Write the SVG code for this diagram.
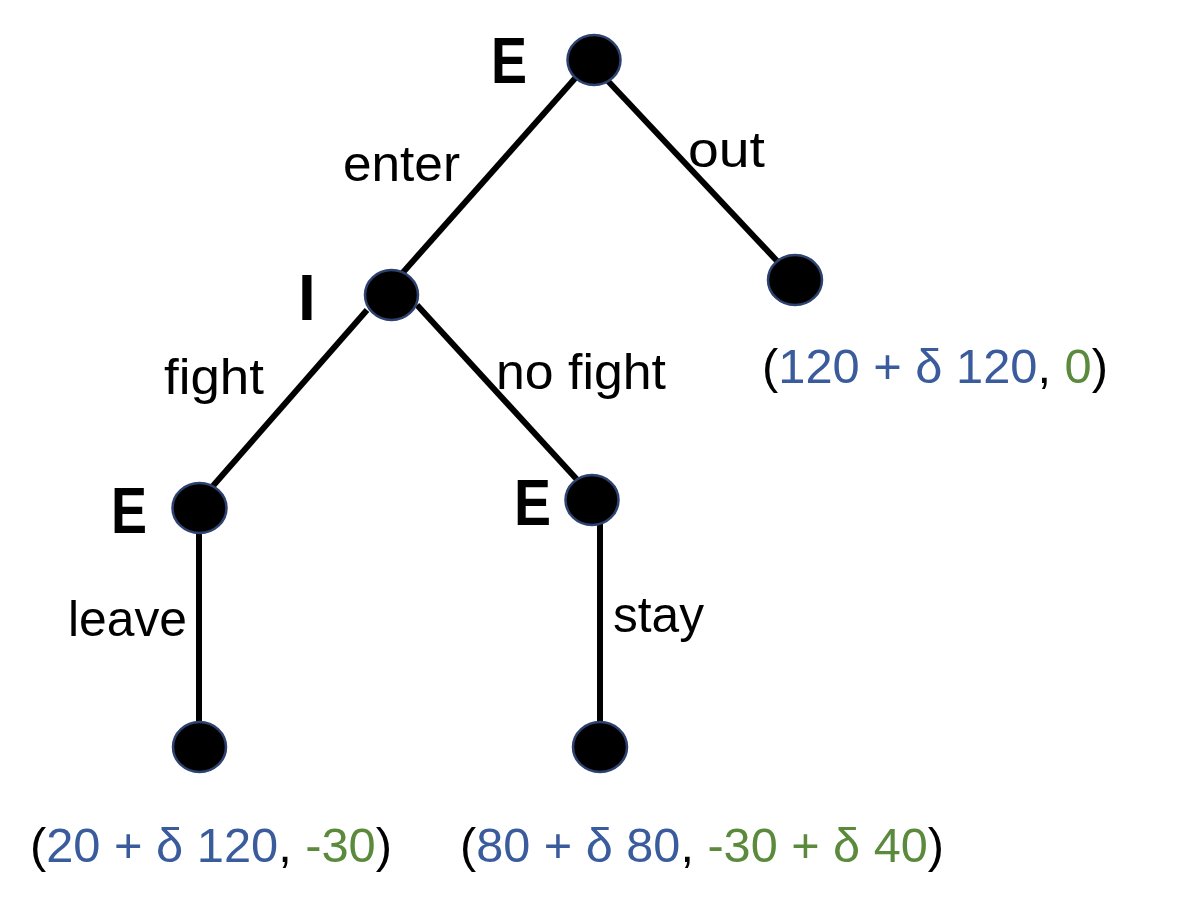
<svg xmlns="http://www.w3.org/2000/svg" width="1200" height="917" viewBox="0 0 1200 917">
<style>
.edge{stroke:#000;stroke-width:6;stroke-linecap:butt;fill:none}
.node{fill:#000;stroke:#2e4270;stroke-width:2.5}
.player{font-family:"Liberation Sans",Arial,sans-serif;font-weight:bold;font-size:64px;fill:#000}
.lbl{font-family:"Liberation Sans",Arial,sans-serif;font-size:50px;fill:#000}
.pay{font-family:"Liberation Sans",Arial,sans-serif;font-size:48px;fill:#000}
.b{fill:#3a5b9c}
.g{fill:#5b8a3c}
</style>
<rect width="1200" height="917" fill="#fff"/>
<g id="connectors">
<line class="edge" x1="578" y1="75" x2="398" y2="278"/>
<line class="edge" x1="607" y1="80" x2="778" y2="262"/>
<line class="edge" x1="367" y1="310" x2="212" y2="487"/>
<line class="edge" x1="417" y1="305" x2="582" y2="485"/>
<line class="edge" x1="199" y1="520" x2="199" y2="735"/>
<line class="edge" x1="600" y1="512" x2="600" y2="735"/>
</g>
<g id="node-root">
<ellipse class="node" cx="594" cy="60" rx="26.5" ry="25"/>
<text class="player" x="491" y="83" textLength="36" lengthAdjust="spacingAndGlyphs">E</text>
</g>
<g id="node-out">
<ellipse class="node" cx="795" cy="280" rx="27" ry="25"/>
</g>
<g id="node-I">
<ellipse class="node" cx="391.5" cy="295" rx="26.5" ry="25"/>
<text class="player" x="298" y="320">I</text>
</g>
<g id="node-E-fight">
<ellipse class="node" cx="199.5" cy="508" rx="27" ry="25"/>
<text class="player" x="111" y="533" textLength="36" lengthAdjust="spacingAndGlyphs">E</text>
</g>
<g id="node-E-nofight">
<ellipse class="node" cx="592" cy="500" rx="26.5" ry="25"/>
<text class="player" x="514" y="525" textLength="37" lengthAdjust="spacingAndGlyphs">E</text>
</g>
<g id="node-leave">
<ellipse class="node" cx="199.5" cy="747" rx="26.5" ry="25"/>
</g>
<g id="node-stay">
<ellipse class="node" cx="600" cy="747" rx="27" ry="25"/>
</g>
<g id="edge-labels">
<text class="lbl" x="343" y="181" textLength="117" lengthAdjust="spacingAndGlyphs">enter</text>
<text class="lbl" x="688" y="167" textLength="77" lengthAdjust="spacingAndGlyphs">out</text>
<text class="lbl" x="164" y="394" textLength="100" lengthAdjust="spacingAndGlyphs">fight</text>
<text class="lbl" x="496" y="389" textLength="170" lengthAdjust="spacingAndGlyphs">no fight</text>
<text class="lbl" x="68" y="636" textLength="119" lengthAdjust="spacingAndGlyphs">leave</text>
<text class="lbl" x="613" y="632" textLength="91" lengthAdjust="spacingAndGlyphs">stay</text>
</g>
<g id="payoffs">
<text class="pay" x="762" y="383" textLength="346" lengthAdjust="spacingAndGlyphs">(<tspan class="b">120 + δ 120</tspan>, <tspan class="g">0</tspan>)</text>
<text class="pay" x="30" y="862" textLength="362" lengthAdjust="spacingAndGlyphs">(<tspan class="b">20 + δ 120</tspan>, <tspan class="g">-30</tspan>)</text>
<text class="pay" x="460" y="862" textLength="484" lengthAdjust="spacingAndGlyphs">(<tspan class="b">80 + δ 80</tspan>, <tspan class="g">-30 + δ 40</tspan>)</text>
</g>
</svg>
